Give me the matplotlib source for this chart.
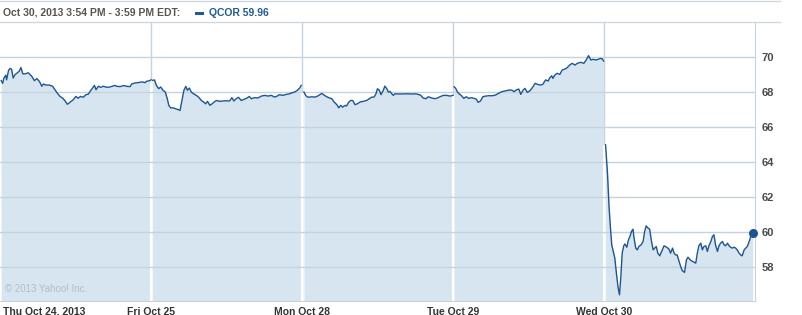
import numpy as np
import matplotlib
matplotlib.use("Agg")
import matplotlib.pyplot as plt
import matplotlib.transforms as mtransforms
from matplotlib.lines import Line2D
from matplotlib.patches import Rectangle

plt.rcParams['font.family'] = ['Liberation Sans', 'DejaVu Sans']

# --- data: QCOR intraday price, minutes since the open for each day ---
day_labels = ['Thu Oct 24, 2013', 'Fri Oct 25', 'Mon Oct 28', 'Tue Oct 29', 'Wed Oct 30']
header_text = 'Oct 30, 2013 3:54 PM - 3:59 PM EDT:'
legend_text = 'QCOR 59.96'
y_ticks = [58, 60, 62, 64, 66, 68, 70]

oct24_min = [3, 7, 10, 15, 17, 22, 26, 30, 34, 39, 45, 50, 54, 59, 65, 73, 82, 89, 95, 102,
             108, 112, 119, 127, 136, 142, 148, 155, 162, 168, 174, 181, 189, 196, 202, 208, 215, 222, 228, 234,
             239, 244, 248, 254, 260, 267, 276, 284, 297, 301, 310, 319, 327, 336, 340, 349, 357, 366, 375, 379,
             387, 390]
oct24_px = [68.65, 68.5, 68.8, 68.96, 68.7, 69.23, 69.35, 69.3, 68.8, 69.0, 69.1, 69.2, 69.4, 69.04, 69.04, 69.1, 68.9, 68.65, 68.77, 68.6,
            68.33, 68.46, 68.4, 68.4, 68.33, 68.13, 67.94, 67.75, 67.65, 67.5, 67.3, 67.42, 67.56, 67.75, 67.65, 67.75, 67.7, 67.85, 67.88, 68.08,
            68.23, 68.38, 68.13, 68.33, 68.27, 68.33, 68.27, 68.29, 68.38, 68.33, 68.31, 68.37, 68.33, 68.31, 68.46, 68.52, 68.54, 68.58, 68.54, 68.62,
            68.65, 68.7]

oct25_min = [4, 9, 14, 20, 25, 31, 37, 42, 46, 51, 57, 63, 70, 75, 80, 85, 90, 94, 99, 104,
             110, 117, 123, 130, 136, 141, 146, 152, 158, 163, 169, 177, 186, 195, 203, 209, 214, 220, 226, 233,
             240, 248, 254, 259, 268, 276, 285, 294, 302, 311, 319, 326, 332, 341, 350, 358, 364, 371, 378, 384,
             388]
oct25_px = [68.67, 68.69, 68.38, 68.19, 68.29, 68.1, 68.0, 67.62, 67.24, 67.09, 67.1, 67.05, 67.0, 66.95, 67.52, 68.1, 68.32, 68.1, 68.23, 68.0,
            67.9, 67.81, 67.71, 67.52, 67.43, 67.33, 67.47, 67.24, 67.33, 67.43, 67.52, 67.47, 67.49, 67.5, 67.49, 67.68, 67.49, 67.62, 67.7, 67.52,
            67.58, 67.66, 67.75, 67.62, 67.68, 67.66, 67.77, 67.81, 67.77, 67.81, 67.71, 67.77, 67.85, 67.81, 67.87, 67.9, 67.96, 68.0, 68.1, 68.23,
            68.38]

oct28_min = [5, 10, 16, 25, 34, 42, 51, 57, 64, 71, 77, 83, 90, 95, 100, 105, 111, 115, 121, 126,
             131, 137, 143, 150, 158, 167, 174, 180, 186, 191, 195, 200, 204, 210, 214, 219, 223, 227, 232, 236,
             240, 249, 257, 270, 283, 292, 300, 307, 313, 320, 326, 335, 344, 350, 356, 365, 374, 382, 390]
oct28_px = [68.0, 67.79, 67.7, 67.73, 67.71, 67.79, 67.92, 67.83, 67.73, 67.66, 67.62, 67.43, 67.28, 67.1, 67.24, 67.14, 67.24, 67.2, 67.43, 67.52,
            67.52, 67.28, 67.33, 67.43, 67.47, 67.52, 67.62, 67.71, 67.71, 67.9, 68.19, 68.1, 67.85, 68.1, 68.34, 68.19, 68.0, 68.04, 67.9, 67.81,
            67.9, 67.89, 67.89, 67.9, 67.89, 67.9, 67.87, 67.81, 67.66, 67.62, 67.73, 67.66, 67.62, 67.66, 67.73, 67.81, 67.81, 67.77, 67.81]

oct29_min = [3, 7, 11, 15, 22, 28, 34, 41, 48, 54, 60, 65, 71, 77, 84, 93, 102, 110, 117, 126,
             134, 143, 152, 158, 164, 170, 175, 181, 186, 192, 198, 205, 212, 218, 226, 232, 239, 246, 250, 255,
             258, 263, 269, 276, 282, 289, 295, 301, 308, 315, 321, 330, 338, 344, 350, 356, 362, 369, 375, 381,
             386, 389]
oct29_px = [68.3, 68.21, 68.02, 67.92, 67.79, 67.64, 67.73, 67.64, 67.68, 67.64, 67.6, 67.41, 67.49, 67.73, 67.77, 67.79, 67.79, 67.83, 67.92, 68.02,
            68.06, 68.11, 68.11, 68.02, 68.13, 68.17, 67.87, 68.11, 68.21, 67.98, 68.06, 68.25, 68.5, 68.44, 68.4, 68.44, 68.69, 68.63, 68.82, 68.93,
            68.78, 68.97, 69.07, 69.01, 69.26, 69.31, 69.39, 69.54, 69.64, 69.54, 69.64, 69.7, 69.64, 69.83, 70.08, 69.83, 69.87, 69.83, 69.87, 69.92,
            69.89, 69.77]

oct30_min = [4, 9, 13, 17, 20, 23, 28, 32, 36, 40, 43, 47, 51, 54, 59, 63, 67, 71, 75, 77,
             82, 86, 90, 96, 101, 105, 109, 114, 118, 122, 127, 131, 135, 139, 144, 149, 155, 162, 168, 172,
             177, 181, 185, 189, 194, 198, 202, 208, 213, 217, 221, 226, 230, 237, 241, 245, 250, 254, 258, 263,
             267, 271, 276, 280, 284, 288, 293, 297, 301, 306, 310, 314, 319, 323, 327, 331, 336, 340, 344, 349,
             353, 357, 362, 366, 370, 375, 379, 384]
oct30_px = [64.99, 63.37, 61.47, 60.13, 59.28, 58.99, 58.51, 57.66, 56.9, 56.42, 57.28, 58.8, 59.22, 59.33, 59.14, 59.56, 59.75, 60.04, 60.17, 59.75,
            59.09, 58.99, 59.18, 59.28, 59.47, 60.04, 60.36, 60.23, 60.17, 59.56, 58.99, 59.09, 59.18, 58.8, 58.65, 58.9, 59.22, 59.14, 59.03, 58.8,
            59.09, 58.8, 58.7, 58.7, 58.32, 58.04, 57.81, 57.7, 58.42, 58.57, 58.46, 58.36, 58.32, 58.23, 58.8, 59.22, 59.37, 58.99, 59.18, 59.22,
            58.9, 59.22, 59.47, 59.75, 59.85, 59.28, 58.9, 59.22, 59.37, 59.47, 59.28, 59.22, 59.37, 59.22, 59.14, 59.09, 59.14, 59.09, 58.99, 58.8,
            58.7, 58.65, 58.99, 59.09, 59.18, 59.47, 59.75, 59.96]

session_minutes = 390
days_min = [oct24_min, oct25_min, oct28_min, oct29_min, oct30_min]
days_px = [oct24_px, oct25_px, oct28_px, oct29_px, oct30_px]

# --- style ---
W, H = 803, 315
line_c = '#1d5592'
fill_c = '#d6e5f0'
grid_c = '#c4d3de'
y_lo, y_hi = 56.07, 72.0

fig = plt.figure(figsize=(W / 100, H / 100), dpi=100)
ax = fig.add_axes([0.0, 14 / H, 755 / W, 279 / H])
ax.set_xlim(0, len(day_labels))
ax.set_ylim(y_lo, y_hi)

# vertical day separators (grey above the fill)
for d in range(1, len(day_labels)):
    ax.axvline(d, color=grid_c, lw=1.0, zorder=0.5)

for d, (mins, px) in enumerate(zip(days_min, days_px)):
    x = d + np.array(mins) / session_minutes
    ax.fill_between(x, px, y_lo, color=fill_c, lw=0, zorder=1)
    ax.plot(x, px, color=line_c, lw=1.0, zorder=3)

# white gaps between the daily fills
for d in range(1, len(day_labels)):
    top = min(days_px[d - 1][-1], days_px[d][0])
    ax.vlines(d, y_lo, top, color='white', lw=1.6, zorder=1.5)

# horizontal grid
for v in y_ticks:
    ax.axhline(v, color=grid_c, lw=1.0, zorder=2)

# last price dot
ax.plot(len(day_labels) - 1 + oct30_min[-1] / session_minutes, oct30_px[-1], 'o',
        color=line_c, ms=5.5, zorder=4, clip_on=False)

# axes frame
for s in ['left', 'top']:
    ax.spines[s].set_visible(False)
ax.spines['right'].set_color(grid_c)
ax.spines['bottom'].set_color(grid_c)

ax.yaxis.tick_right()
ax.set_yticks(y_ticks)
ax.set_yticklabels([str(v) for v in y_ticks], fontsize=8, fontweight='bold', color='#4a4a4a')
ax.tick_params(axis='y', length=0, pad=5)

ax.set_xticks(range(len(day_labels)))
ax.set_xticklabels(day_labels, fontsize=7.5, fontweight='bold', color='#333333')
ax.tick_params(axis='x', length=0, pad=4)
first = ax.get_xticklabels()[0]
first.set_ha('left')
first.set_transform(first.get_transform() + mtransforms.ScaledTranslation(3 / 100, 0, fig.dpi_scale_trans))

ax.text(0.006, 0.025, '\u00a9 2013 Yahoo! Inc.', transform=ax.transAxes,
        fontsize=7, color='#b0bfcc', va='bottom', ha='left')

# header box
fx = lambda p: p / W
fy = lambda p: 1 - p / H
for yy in [1, 22]:
    fig.add_artist(Line2D([0, fx(780)], [fy(yy), fy(yy)], color='#cfd8df', lw=1.0))
fig.text(fx(3), fy(12.5), header_text, fontsize=7.5, fontweight='bold', color='#555555', va='center')
fig.add_artist(Rectangle((fx(195), fy(15)), 9 / W, 3.5 / H, color='#1f5a96', lw=0))
fig.text(fx(209), fy(12.5), legend_text, fontsize=7.5, fontweight='bold', color='#1f5a96', va='center')

fig.savefig('out.png', dpi=100)
